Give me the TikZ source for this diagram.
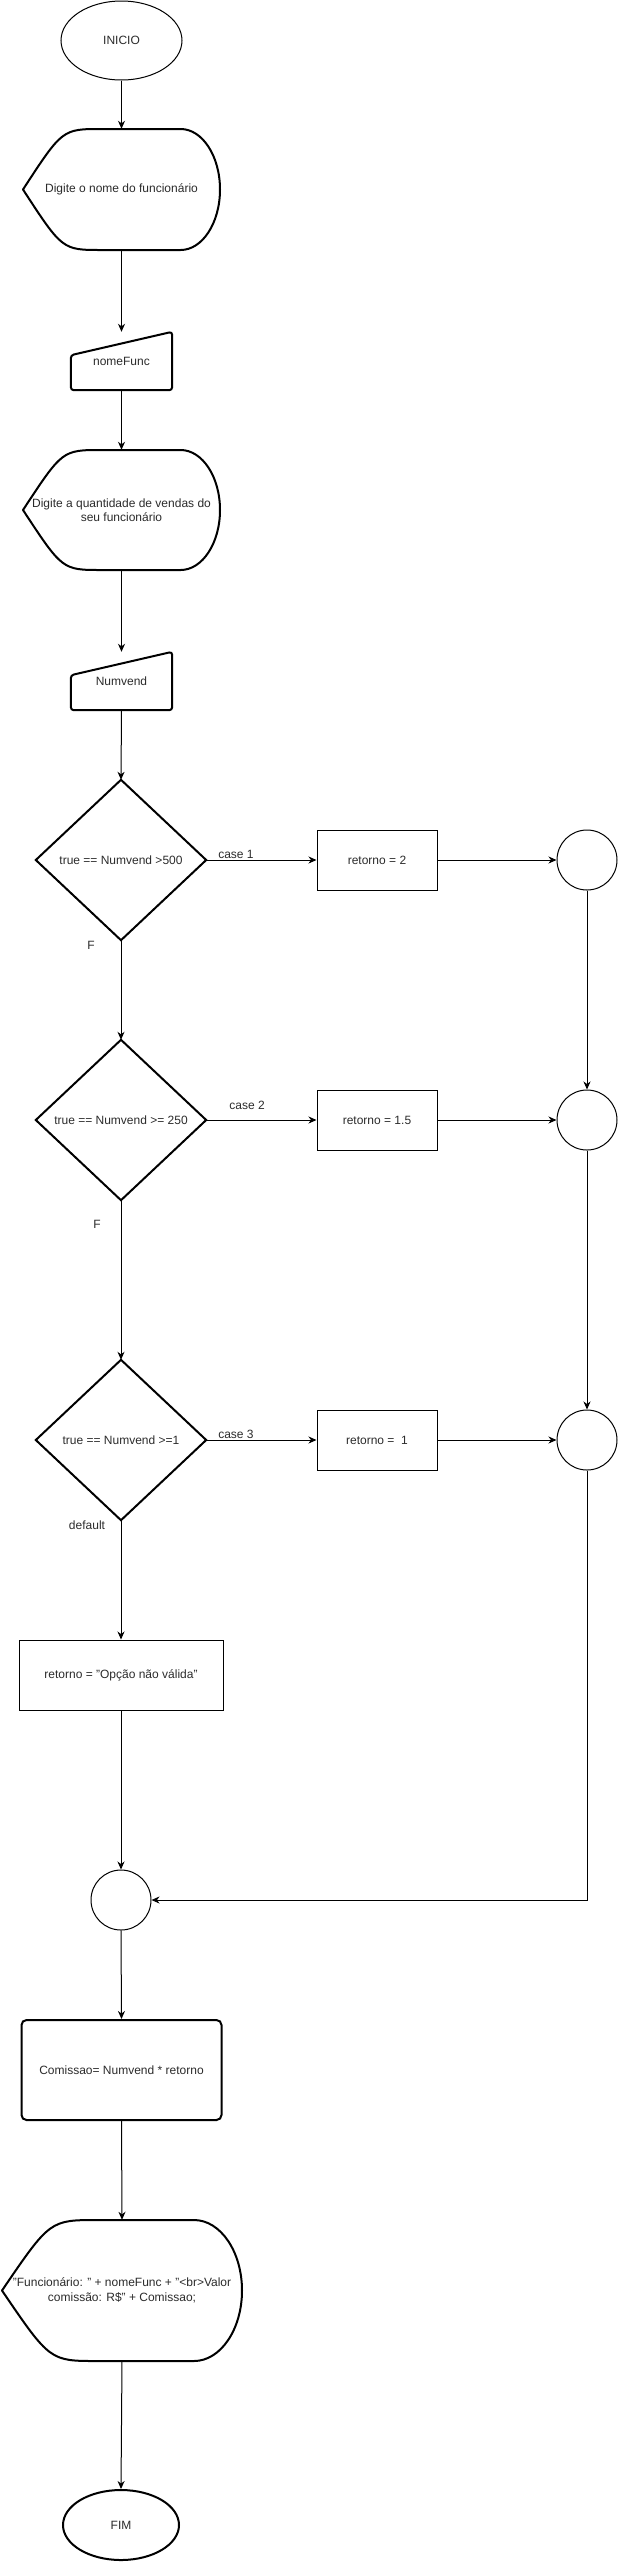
\documentclass[tikz,border=0pt]{standalone}
\usepackage{fontspec}
\setmainfont{Liberation Sans}
\usetikzlibrary{arrows.meta,calc,shapes.geometric}
\definecolor{txt}{HTML}{2B2B2B}
\begin{document}
\begin{tikzpicture}[x=1pt,y=-1pt,
  every node/.style={font=\fontsize{12pt}{14.4pt}\selectfont, text=txt, inner sep=0pt, align=center},
  thn/.style={draw=black, line width=1pt},
  thk/.style={draw=black, line width=2pt},
  conn/.style={draw=black, line width=1pt, -{Stealth[length=8pt,width=7pt,inset=2.5pt]}},
  lbl/.style={font=\fontsize{12pt}{14.4pt}\selectfont, text=txt}
]
\useasboundingbox (0,0) rectangle (618,2562);

% ---------- nodes ----------
\node[ellipse, thn, minimum width=121pt, minimum height=79pt] (ini) at (121.5,40.5) {INICIO};

\node[rectangle, minimum width=197pt, minimum height=121pt] (d1) at (121.5,189.5) {Digite o nome do funcionário};
\node[rectangle, minimum width=101pt, minimum height=58pt] (nf) at (121.5,361) {nomeFunc};
\node[rectangle, minimum width=197pt, minimum height=120pt] (d2) at (121.5,510) {Digite a quantidade de vendas do\\seu funcionário};
\node[rectangle, minimum width=101pt, minimum height=58pt] (nv) at (121.5,681) {Numvend};

\node[rectangle, minimum width=170pt, minimum height=160pt] (q1) at (121,860) {true == Numvend >500};
\node[rectangle, minimum width=170pt, minimum height=160pt] (q2) at (121,1120) {true == Numvend >= 250};
\node[rectangle, minimum width=170pt, minimum height=160pt] (q3) at (121,1440) {true == Numvend >=1};

\node[rectangle, thn, minimum width=120pt, minimum height=60pt] (r1) at (377,860) {retorno = 2};
\node[rectangle, thn, minimum width=120pt, minimum height=60pt] (r2) at (377,1120) {retorno = 1.5};
\node[rectangle, thn, minimum width=120pt, minimum height=60pt] (r3) at (377,1440) {retorno =\ \ 1};

\node[circle, thn, minimum size=60pt] (c1) at (587,860) {};
\node[circle, thn, minimum size=60pt] (c2) at (587,1120) {};
\node[circle, thn, minimum size=60pt] (c3) at (587,1440) {};

\node[rectangle, thn, minimum width=204pt, minimum height=70pt] (r4) at (121,1675) {retorno = "Opção não válida"};
\node[circle, thn, minimum size=60pt] (c4) at (121,1900) {};
\node[rectangle, thk, rounded corners=5pt, minimum width=200pt, minimum height=100pt] (cm) at (121.5,2070) {Comissao= Numvend * retorno};

\node[rectangle, minimum width=240pt, minimum height=141pt] (d3) at (122,2290.5) {"Funcionário: " + nomeFunc + "<br>Valor\\comissão: R\$" + Comissao;};
\node[ellipse, thk, minimum width=116pt, minimum height=70pt] (fim) at (121,2525) {FIM};

% ---------- display shapes ----------
\newcommand{\DispShape}[4]{% L R T B
  \pgfmathsetmacro{\dw}{#2-#1}%
  \pgfmathsetmacro{\hh}{(#4-#3)/2}%
  \pgfmathsetmacro{\cy}{(#3+#4)/2}%
  \draw[thk, line join=round] (#1,\cy)
    .. controls ({#1+0.2*\dw},#3) .. ({#1+0.4*\dw},#3)
    -- ({#2-0.2*\dw},#3)
    .. controls ({#2-0.2*\dw+0.5523*0.2*\dw},#3) and (#2,{\cy-0.5523*\hh}) .. (#2,\cy)
    .. controls (#2,{\cy+0.5523*\hh}) and ({#2-0.2*\dw+0.5523*0.2*\dw},#4) .. ({#2-0.2*\dw},#4)
    -- ({#1+0.4*\dw},#4)
    .. controls ({#1+0.2*\dw},#4) .. cycle;}
\DispShape{23}{220}{129}{250}
\DispShape{23}{220}{450}{570}
\DispShape{2}{242}{2220}{2361}

% ---------- manual input shapes ----------
\draw[thk, rounded corners=3pt] ($(nf.south west)+(0,-35)$) -- (nf.north east) -- (nf.south east) -- (nf.south west) -- cycle;
\draw[thk, rounded corners=3pt] ($(nv.south west)+(0,-35)$) -- (nv.north east) -- (nv.south east) -- (nv.south west) -- cycle;

% ---------- diamonds ----------
\draw[thk] (q1.north) -- (q1.east) -- (q1.south) -- (q1.west) -- cycle;
\draw[thk] (q2.north) -- (q2.east) -- (q2.south) -- (q2.west) -- cycle;
\draw[thk] (q3.north) -- (q3.east) -- (q3.south) -- (q3.west) -- cycle;

% ---------- connectors ----------
\draw[conn] (ini.south) -- (d1.north);
\draw[conn] (d1.south) -- (nf.north);
\draw[conn] (nf.south) -- (d2.north);
\draw[conn] (d2.south) -- (nv.north);
\draw[conn] (nv.south) -- (q1.north);

\draw[conn] (q1.east) -- node[lbl, pos=0.27, yshift=6pt] {case 1} (r1.west);
\draw[conn] (q2.east) -- node[lbl, pos=0.37, yshift=15pt] {case 2} (r2.west);
\draw[conn] (q3.east) -- node[lbl, pos=0.27, yshift=6pt] {case 3} (r3.west);

\draw[conn] (r1.east) -- (c1.west);
\draw[conn] (r2.east) -- (c2.west);
\draw[conn] (r3.east) -- (c3.west);

\draw[conn] (c1.south) -- (c2.north);
\draw[conn] (c2.south) -- (c3.north);
\draw[conn] (c3.south) |- (c4.east);

\draw[conn] (q1.south) -- node[lbl, pos=0.05, xshift=-30pt] {F} (q2.north);
\draw[conn] (q2.south) -- node[lbl, pos=0.15, xshift=-24pt] {F} (q3.north);
\draw[conn] (q3.south) -- node[lbl, pos=0.04, xshift=-34pt] {default} (r4.north);

\draw[conn] (r4.south) -- (c4.north);
\draw[conn] (c4.south) -- (cm.north);
\draw[conn] (cm.south) -- (d3.north);
\draw[conn] (d3.south) -- (fim.north);
\end{tikzpicture}
\end{document}
